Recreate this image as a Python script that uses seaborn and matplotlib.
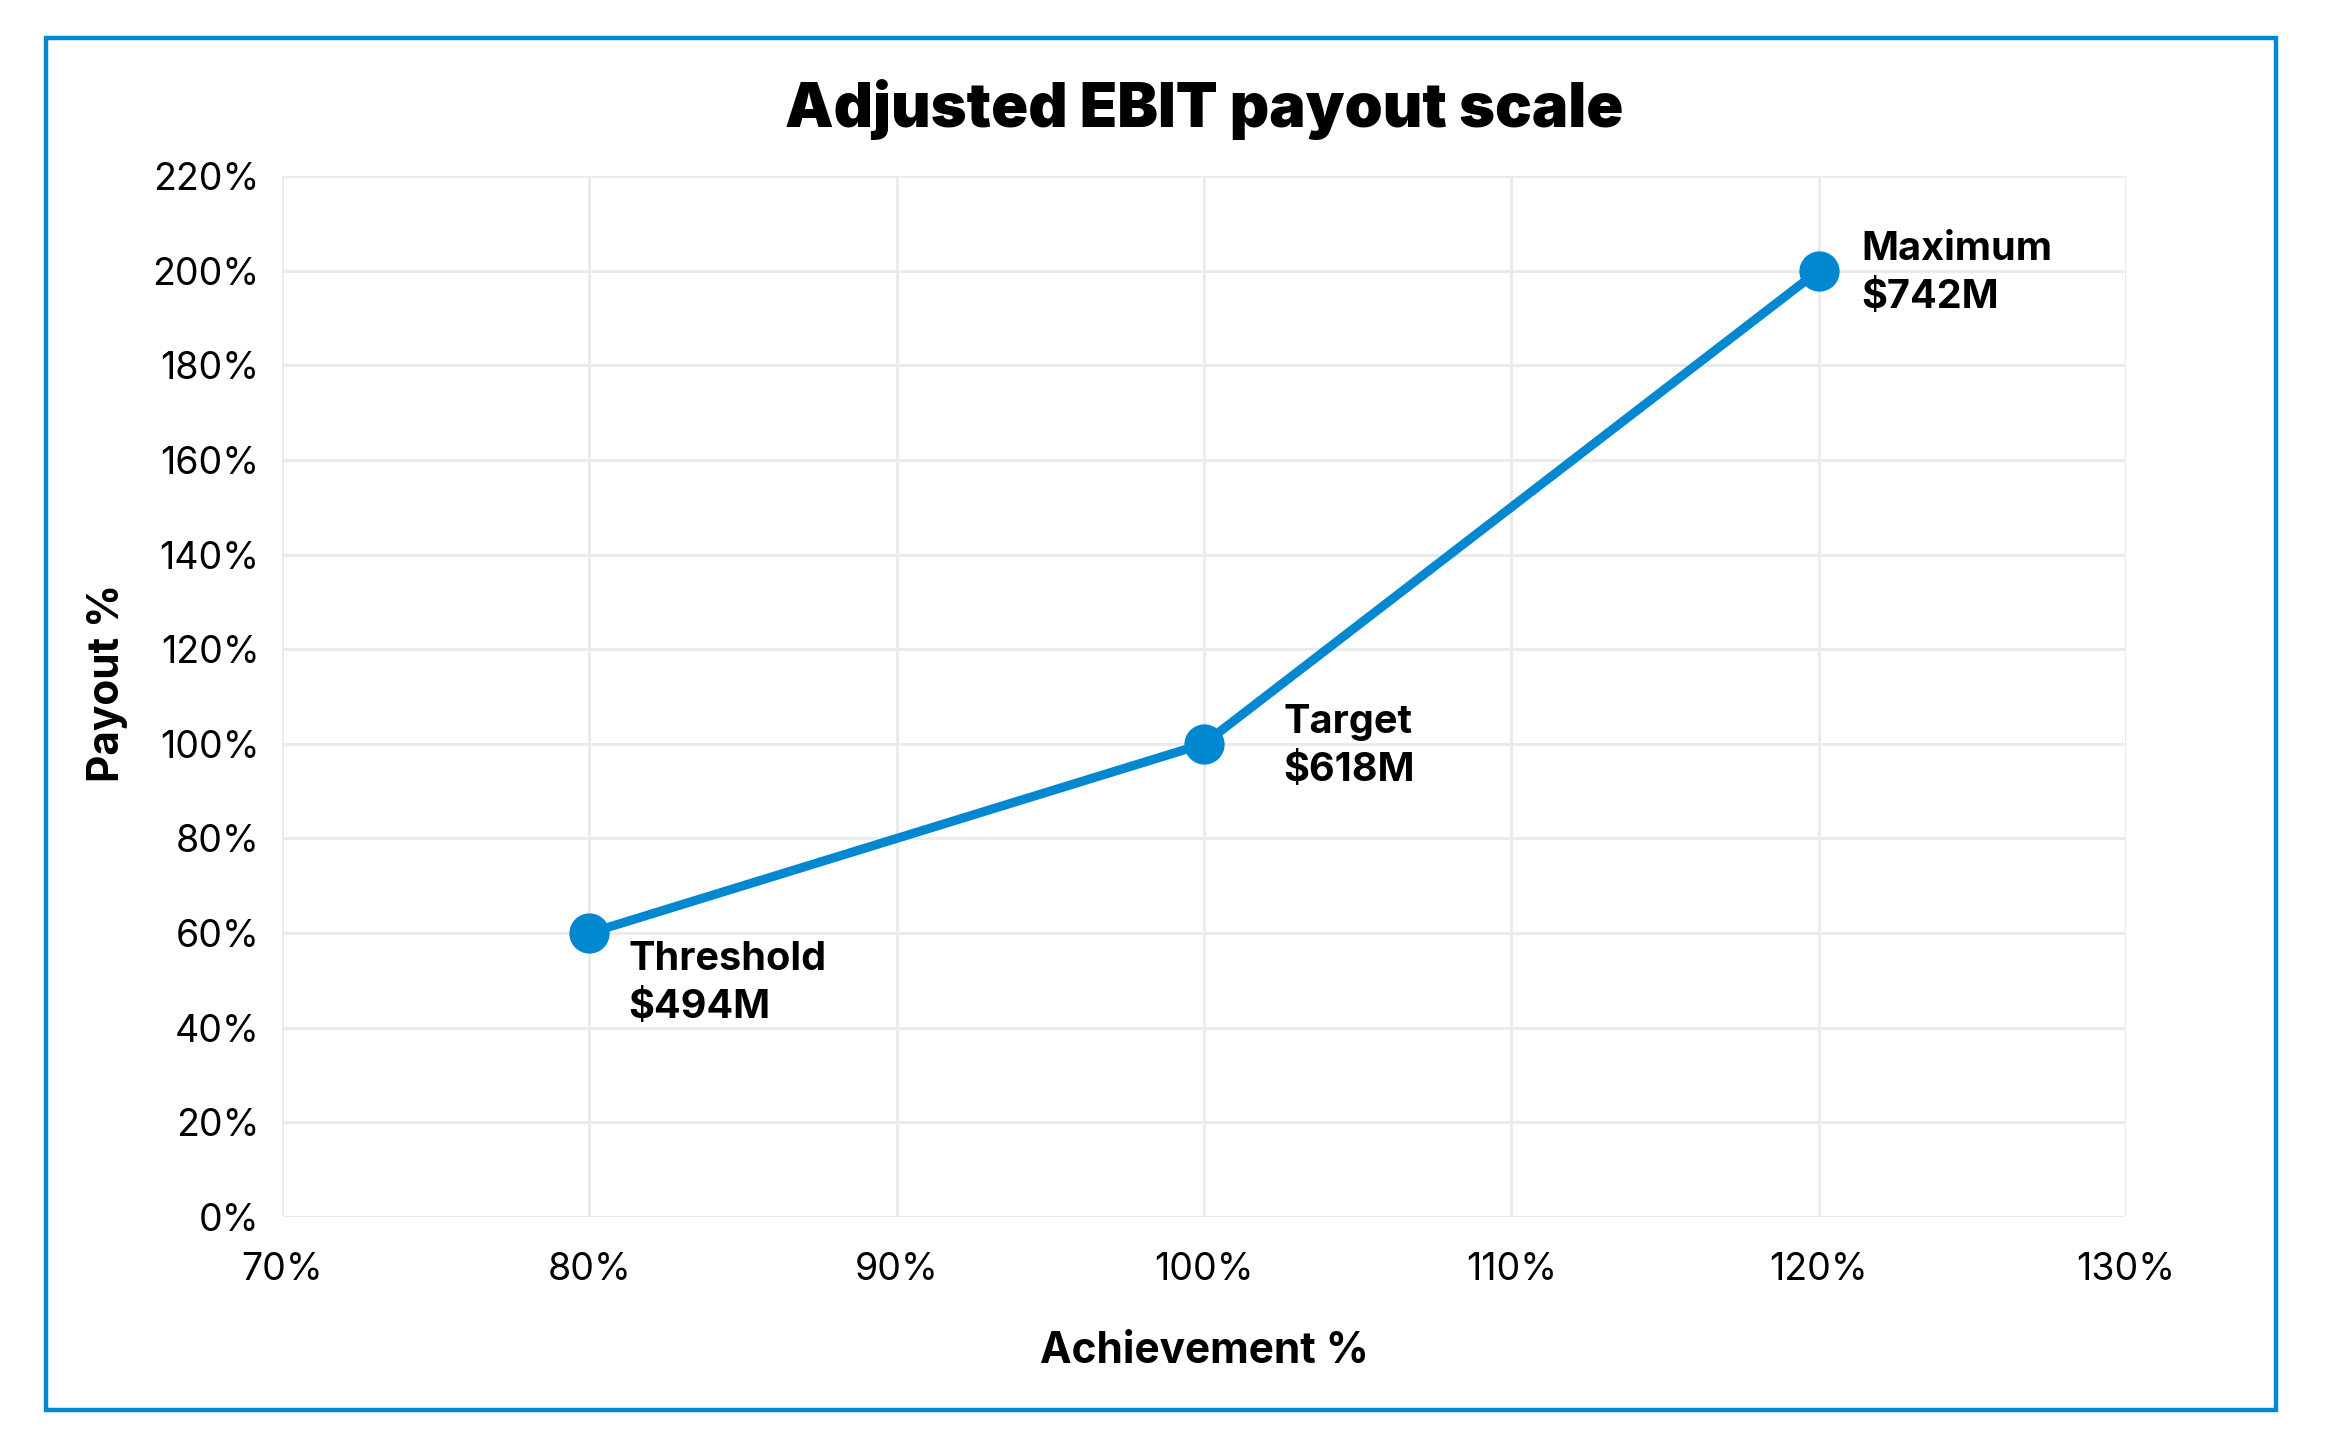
import matplotlib
matplotlib.use("Agg")
import matplotlib.pyplot as plt
import seaborn as sns
import pandas as pd
from matplotlib.patches import Rectangle
from matplotlib.ticker import FuncFormatter

# Data
achievement = [80, 100, 120]
payout = [60, 100, 200]
point_names = ["Threshold", "Target", "Maximum"]
point_values = ["$494M", "$618M", "$742M"]
x_ticks = [70, 80, 90, 100, 110, 120, 130]
y_ticks = [0, 20, 40, 60, 80, 100, 120, 140, 160, 180, 200, 220]

BLUE = "#0288D1"

sns.set_theme(style="white")
plt.rcParams['font.family'] = ['Inter', 'DejaVu Sans']

fig = plt.figure(figsize=(23.25, 14.51), dpi=100)
ax = fig.add_axes([0.1213, 0.1613, 0.9144 - 0.1213, 0.8787 - 0.1613])

df = pd.DataFrame({"Achievement": achievement, "Payout": payout})
sns.lineplot(data=df, x="Achievement", y="Payout", ax=ax, color=BLUE,
             linewidth=6.5, marker="o", markersize=29, markeredgewidth=0,
             zorder=5)

ax.set_xlim(70, 130)
ax.set_ylim(0, 220)
ax.set_xticks(x_ticks)
ax.set_yticks(y_ticks)
ax.xaxis.set_major_formatter(FuncFormatter(lambda v, p: f"{int(v)}%"))
ax.yaxis.set_major_formatter(FuncFormatter(lambda v, p: f"{int(v)}%"))
ax.tick_params(axis="both", length=0, labelsize=27, colors="#000000")
ax.tick_params(axis="y", pad=16)
ax.tick_params(axis="x", pad=25)
ax.grid(True, color="#EBEBEB", linewidth=2.2)
for s in ax.spines.values():
    s.set_visible(False)

ax.set_xlabel("Achievement %", fontsize=30.5, fontweight="bold", labelpad=31, color="black")
ax.set_ylabel("Payout %", fontsize=30.5, fontweight="bold", labelpad=18, color="black")
ax.yaxis.label.set_y(0.513)

offsets = [(28, -36), (57, -2), (31, -2)]
for xv, yv, n, v, off in zip(achievement, payout, point_names, point_values, offsets):
    ax.annotate(f"{n}\n{v}", xy=(xv, yv), xytext=off, textcoords="offset points",
                ha="left", va="center", fontsize=28.5, fontweight="bold",
                color="black", linespacing=1.38, zorder=6)

fig.text(1204 / 2325, 1 - 110 / 1451, "Adjusted EBIT payout scale",
         ha="center", va="center", fontsize=44, fontweight="black", color="black")

# Outer border
fig.patches.append(Rectangle((46 / 2325, 1 - 1410 / 1451), (2276 - 46) / 2325,
                             (1410 - 38) / 1451, transform=fig.transFigure,
                             fill=False, edgecolor=BLUE, linewidth=3.2))

fig.savefig("out.png", dpi=100, facecolor="white")
